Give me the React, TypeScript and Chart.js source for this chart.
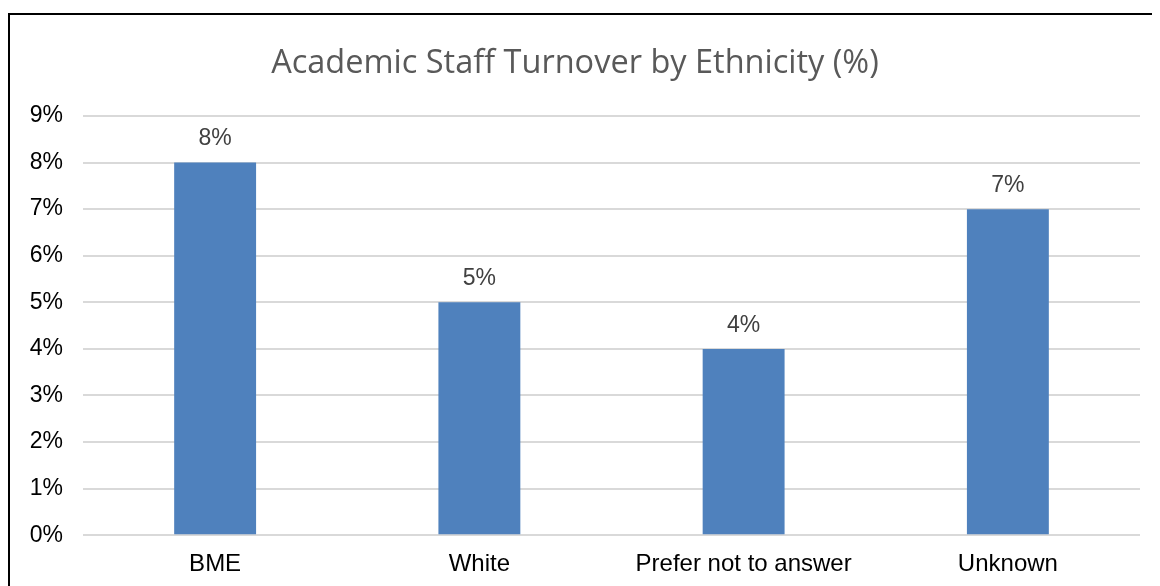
import React, { useEffect, useRef } from "react";
import { Chart, registerables } from "chart.js";

Chart.register(...registerables);

const categories = ["BME", "White", "Prefer not to answer", "Unknown"];
const turnover = [8, 5, 4, 7];
const yTicks = [0, 1, 2, 3, 4, 5, 6, 7, 8, 9];
const titleText = "Academic Staff Turnover by Ethnicity (%)";

const dataLabelPlugin = {
  id: "dataLabels",
  afterDatasetsDraw(chart: any) {
    const ctx = chart.ctx;
    const meta = chart.getDatasetMeta(0);
    ctx.save();
    ctx.font = "23px 'Liberation Sans', Arial, sans-serif";
    ctx.fillStyle = "#404040";
    ctx.textAlign = "center";
    ctx.textBaseline = "bottom";
    meta.data.forEach((bar: any, i: number) => {
      ctx.fillText(`${turnover[i]}%`, bar.x, bar.y - 12);
    });
    ctx.restore();
  },
};

export default function App() {
  const ref = useRef<HTMLCanvasElement | null>(null);
  useEffect(() => {
    if (!ref.current) return;
    const chart = new Chart(ref.current, {
      type: "bar",
      data: {
        labels: categories,
        datasets: [
          {
            data: turnover,
            backgroundColor: "#4F81BD",
            barPercentage: 0.62,
            categoryPercentage: 0.5,
          },
        ],
      },
      options: {
        animation: false,
        responsive: false,
        maintainAspectRatio: false,
        layout: { padding: { left: 0, right: 20, top: 0, bottom: 0 } },
        plugins: {
          legend: { display: false },
          tooltip: { enabled: false },
          title: {
            display: true,
            text: titleText,
            color: "#595959",
            font: { family: "'Open Sans', sans-serif", size: 32.5, weight: "normal" },
            padding: { top: 29, bottom: 33 },
          },
        },
        scales: {
          x: {
            grid: { display: false },
            border: { display: false },
            ticks: {
              color: "#000000",
              font: { family: "'Liberation Sans', Arial, sans-serif", size: 24 },
              padding: 7,
            },
          },
          y: {
            min: 0,
            max: 9,
            afterBuildTicks(axis: any) {
              axis.ticks = yTicks.map((v) => ({ value: v }));
            },
            afterFit(axis: any) {
              axis.width = 73;
            },
            grid: { color: "#D9D9D9", lineWidth: 2, drawTicks: false },
            border: { display: false },
            ticks: {
              color: "#000000",
              font: { family: "'Liberation Sans', Arial, sans-serif", size: 23 },
              padding: 20,
              callback: (v: any) => `${v}%`,
            },
          },
        },
      },
      plugins: [dataLabelPlugin],
    });
    return () => chart.destroy();
  }, []);

  return (
    <div
      style={{
        marginTop: 5,
        width: 1152,
        height: 573,
        borderTop: "2px solid #000",
        borderLeft: "2px solid #000",
        boxSizing: "border-box",
        overflow: "hidden",
        background: "#fff",
      }}
    >
      <canvas ref={ref} width={1150} height={571} style={{ display: "block" }} />
    </div>
  );
}
